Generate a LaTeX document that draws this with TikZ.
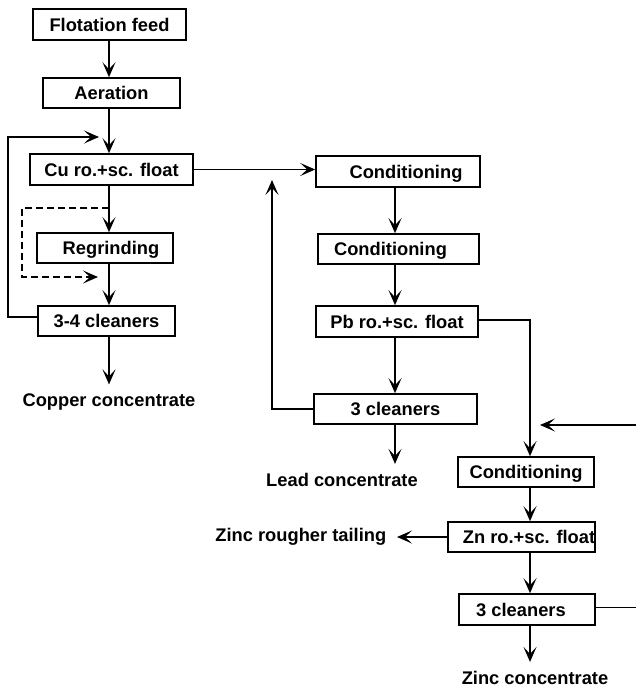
\documentclass[tikz,border=0pt]{standalone}
\usepackage{fontspec}
\setmainfont{Liberation Sans}
\usetikzlibrary{arrows.meta}

\begin{document}
\begin{tikzpicture}[x=1pt,y=-1pt,>={Stealth[length=15pt,width=13pt,inset=7pt]},line width=1.6pt,
  box/.style={draw,inner sep=0pt,minimum height=31pt,text height=13pt,text depth=0pt,font=\fontsize{18.3}{20}\selectfont\bfseries},
  outlabel/.style={inner sep=0pt,font=\fontsize{18.3}{20}\selectfont\bfseries},
  flow/.style={->},
  outflow/.style={->,shorten >=8pt}]
  \useasboundingbox (0,0) rectangle (636,688);
  \coordinate (cucol) at (109,0);
  \coordinate (pbcol) at (395,0);
  \coordinate (zncol) at (530,0);
  \coordinate (edge) at (636,0);

  \node[box,minimum width=153pt] (feed) at (109.5,24.5) {Flotation feed};
  \node[box,minimum width=137pt,minimum height=30pt] (aer) at (111.5,93) {Aeration};
  \node[box,minimum width=163pt] (cu) at (111.5,169.5) {Cu ro.+sc. float};
  \node[box,minimum width=136pt,minimum height=30pt] (regr) at (105,248) {\hspace*{12pt}Regrinding};
  \node[box,minimum width=137pt,minimum height=30pt] (cuclean) at (106.5,321) {3-4 cleaners};
  \node[outlabel,anchor=base] (cuconc) at (109,406) {Copper concentrate};

  \node[box,minimum width=164pt] (condA) at (398,171.5) {\hspace*{16pt}Conditioning};
  \node[box,minimum width=161pt,minimum height=30pt] (condB) at (398.5,249) {Conditioning\hspace*{16pt}};
  \node[box,minimum width=162pt] (pb) at (397,321.5) {Pb ro.+sc. float};
  \node[box,minimum width=163pt,minimum height=30pt] (pbclean) at (395.5,409) {3 cleaners};
  \node[outlabel,anchor=base] (pbconc) at (342,486) {Lead concentrate};

  \node[box,minimum width=136pt,minimum height=30pt] (condC) at (526,472) {Conditioning};
  \node[box,minimum width=144pt,minimum height=30pt] (zn) at (521.5,537) {\hspace*{15pt}Zn ro.+sc. float};
  \node[box,minimum width=136pt] (znclean) at (527,609.5) {3 cleaners\hspace*{12pt}};
  \node[outlabel,anchor=base] (znconc) at (535,684) {Zinc concentrate};
  \node[outlabel,anchor=base east] (zntail) at (387,541) {Zinc rougher tailing};

  \draw[flow] (feed.south -| cucol) -- (aer.north -| cucol);
  \draw[flow] (aer.south -| cucol) -- (cu.north -| cucol);
  \draw[flow] (cu.south -| cucol) -- (regr.north -| cucol);
  \draw[flow] (regr.south -| cucol) -- (cuclean.north -| cucol);
  \draw[outflow] (cuclean.south -| cucol) -- (cuconc.north -| cucol);
  \coordinate (split) at (109,208);
  \coordinate (rejoin) at (98,277);
  \draw[flow,dash pattern=on 7pt off 4pt] (split) -- ++(-87,0) |- (rejoin);
  \coordinate (cuback) at (99,137);
  \draw[flow] ([yshift=4pt]cuclean.west) -- ++(-29,0) |- (cuback);
  \draw[flow] (cu.east) -- (cu.east -| condA.west);

  \draw[flow] (condA.south -| pbcol) -- (condB.north -| pbcol);
  \draw[flow] (condB.south -| pbcol) -- (pb.north -| pbcol);
  \draw[flow] (pb.south -| pbcol) -- (pbclean.north -| pbcol);
  \draw[outflow] (pbclean.south -| pbcol) -- (pbconc.north -| pbcol);
  \coordinate (pbback) at (272,180);
  \draw[flow] (pbclean.west) -| (pbback);
  \draw[flow] ([yshift=1.5pt]pb.east) -| (condC.north -| zncol);

  \coordinate (recycle) at (540,425);
  \draw[flow] (recycle -| edge) -- (recycle);
  \draw[flow] (condC.south -| zncol) -- (zn.north -| zncol);
  \draw[flow] (zn.south -| zncol) -- (znclean.north -| zncol);
  \draw[outflow] (znclean.south -| zncol) -- (znconc.north -| zncol);
  \draw[flow] (zn.west) -- ([xshift=10pt]zntail.east |- zn.west);
  \draw ([yshift=2pt]znclean.east) -- ([yshift=2pt]znclean.east -| edge);
\end{tikzpicture}
\end{document}
